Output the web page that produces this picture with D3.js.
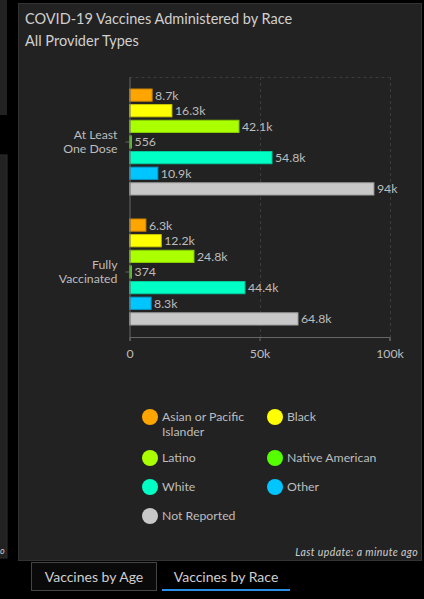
<!DOCTYPE html>
<html><head><meta charset="utf-8">
<script src="https://cdn.jsdelivr.net/npm/d3@7"></script>
<style>
html,body{margin:0;padding:0;background:#000;overflow:hidden;}
svg{display:block;}
text{font-family:Lato,"Open Sans",sans-serif;}
</style></head><body>
<svg id="c" width="424" height="599"></svg>
<script>
const groups = ["At Least One Dose", "Fully Vaccinated"];
const groupLines = [["At Least", "One Dose"], ["Fully", "Vaccinated"]];
const races = ["Asian or Pacific Islander", "Black", "Latino", "Native American", "White", "Other", "Not Reported"];
const raceColors = ["#ffa500", "#ffff00", "#aaff00", "#55ff00", "#00ffc5", "#00c5ff", "#c8c8c8"];
const atLeastOneDose = [8700, 16300, 42100, 556, 54800, 10900, 94000];
const fullyVaccinated = [6300, 12200, 24800, 374, 44400, 8300, 64800];
const xTicks = [0, 50000, 100000];
const legendLines = [["Asian or Pacific", "Islander"], ["Black"], ["Latino"], ["Native American"], ["White"], ["Other"], ["Not Reported"]];
const titleText = "COVID-19 Vaccines Administered by Race";
const subtitleText = "All Provider Types";
const footerText = "Last update: a minute ago";
const tabs = ["Vaccines by Age", "Vaccines by Race"];

const seriesByGroup = [atLeastOneDose, fullyVaccinated];
const svg = d3.select("#c");
const fs = 12.3;

// background panels
svg.append("rect").attr("x", 0).attr("y", 0).attr("width", 7).attr("height", 115).attr("fill", "#222");
svg.append("rect").attr("x", -2).attr("y", 155).attr("width", 9).attr("height", 403).attr("fill", "#222").attr("stroke", "#2e2e2e");
svg.append("text").attr("x", 0).attr("y", 554).attr("font-size", 9).attr("font-style", "italic").attr("fill", "#ccc").text("o");
svg.append("rect").attr("x", 18.5).attr("y", 3.5).attr("width", 403).attr("height", 557).attr("fill", "#222").attr("stroke", "#333");

// title
svg.append("text").attr("x", 25).attr("y", 24).attr("font-size", 14.5).attr("fill", "#d0d0d0").text(titleText);
svg.append("text").attr("x", 25).attr("y", 46).attr("font-size", 14.5).attr("fill", "#d0d0d0").text(subtitleText);

// scales
const pLeft = 129.5, pRight = 389.5, pTop = 77, pBottom = 337;
const x = d3.scaleLinear().domain([0, 100000]).range([pLeft, pRight]);
const y0 = d3.scaleBand().domain(groups).range([pTop, pBottom]);
const y1 = d3.scaleBand().domain(races).range([12, 118]).paddingInner(0.22).paddingOuter(0);

// grid
const grid = svg.append("g");
grid.selectAll("line.v").data(xTicks.slice(1)).join("line")
  .attr("x1", d => Math.round(x(d)) + 0.5).attr("x2", d => Math.round(x(d)) + 0.5)
  .attr("y1", pTop).attr("y2", pBottom)
  .attr("stroke", "#3c3c3c").attr("stroke-dasharray", "3,3");
grid.append("line").attr("x1", pLeft).attr("x2", pRight).attr("y1", pTop + 0.5).attr("y2", pTop + 0.5)
  .attr("stroke", "#3c3c3c").attr("stroke-dasharray", "3,3");

// bars
const g = svg.append("g");
groups.forEach((grp, gi) => {
  const gg = g.append("g").attr("transform", `translate(0,${y0(grp)})`);
  const data = races.map((r, i) => ({ race: r, value: seriesByGroup[gi][i], color: raceColors[i] }));
  gg.selectAll("rect").data(data).join("rect")
    .attr("x", x(0)).attr("y", d => y1(d.race))
    .attr("width", d => Math.max(2, x(d.value) - x(0))).attr("height", y1.bandwidth())
    .attr("fill", d => d.color)
    .attr("stroke", d => d3.color(d.color).darker(0.6)).attr("stroke-width", 1);
  gg.selectAll("text").data(data).join("text")
    .attr("x", d => Math.max(x(0) + 2, x(d.value)) + 3)
    .attr("y", d => y1(d.race) + y1.bandwidth() / 2)
    .attr("dy", "0.36em").attr("font-size", fs).attr("fill", "#bdbdbd")
    .text(d => d3.format(".3~s")(d.value));
});

// axes
const xAxis = svg.append("g").attr("transform", `translate(0,${pBottom})`)
  .call(d3.axisBottom(x).tickValues(xTicks).tickFormat(d3.format("~s")).tickSize(4).tickPadding(8));
xAxis.select(".domain").attr("stroke", "#666");
xAxis.selectAll(".tick line").attr("stroke", "#666");
xAxis.selectAll(".tick text").attr("fill", "#bdbdbd").attr("font-size", fs).attr("font-family", "Lato");

const yAxis = svg.append("g").attr("transform", `translate(${pLeft},0)`)
  .call(d3.axisLeft(y0).tickSize(4).tickPadding(8).tickSizeOuter(0));
yAxis.select(".domain").attr("stroke", "#666");
yAxis.selectAll(".tick line").attr("stroke", "#666");
yAxis.selectAll(".tick text").each(function(d, i) {
  const t = d3.select(this).text(null).attr("fill", "#bdbdbd").attr("font-size", fs).attr("font-family", "Lato").attr("dy", null);
  const lines = groupLines[i];
  lines.forEach((ln, li) => {
    t.append("tspan").attr("x", -12).attr("y", (li - (lines.length - 1) / 2) * 14).attr("dy", "0.36em").text(ln);
  });
});

// legend
const legend = svg.append("g");
const colX = [150, 275], rowY = [417, 458, 487, 516];
races.forEach((r, i) => {
  const cx = colX[i % 2], cy = rowY[Math.floor(i / 2)];
  const it = legend.append("g");
  it.append("circle").attr("cx", cx).attr("cy", cy).attr("r", 8).attr("fill", raceColors[i]);
  const t = it.append("text").attr("font-size", fs).attr("fill", "#bdbdbd");
  legendLines[i].forEach((ln, li) => {
    t.append("tspan").attr("x", cx + 12).attr("y", cy + li * 15).attr("dy", "0.36em").text(ln);
  });
});

// footer
svg.append("text").attr("x", 418).attr("y", 556).attr("text-anchor", "end").attr("font-size", 10.5)
  .attr("letter-spacing", 0.4).attr("font-style", "italic").attr("fill", "#cfcfcf").text(footerText);

// tabs
svg.append("rect").attr("x", 31.5).attr("y", 562.5).attr("width", 125).attr("height", 28).attr("fill", "#0a0a0a").attr("stroke", "#444");
svg.append("text").attr("x", 94).attr("y", 582).attr("text-anchor", "middle").attr("font-size", 14).attr("fill", "#cfcfcf").text(tabs[0]);
svg.append("rect").attr("x", 162).attr("y", 589).attr("width", 128).attr("height", 2).attr("fill", "#2a8ee6");
svg.append("text").attr("x", 226).attr("y", 582).attr("text-anchor", "middle").attr("font-size", 14).attr("fill", "#cfcfcf").text(tabs[1]);
</script>
</body></html>
